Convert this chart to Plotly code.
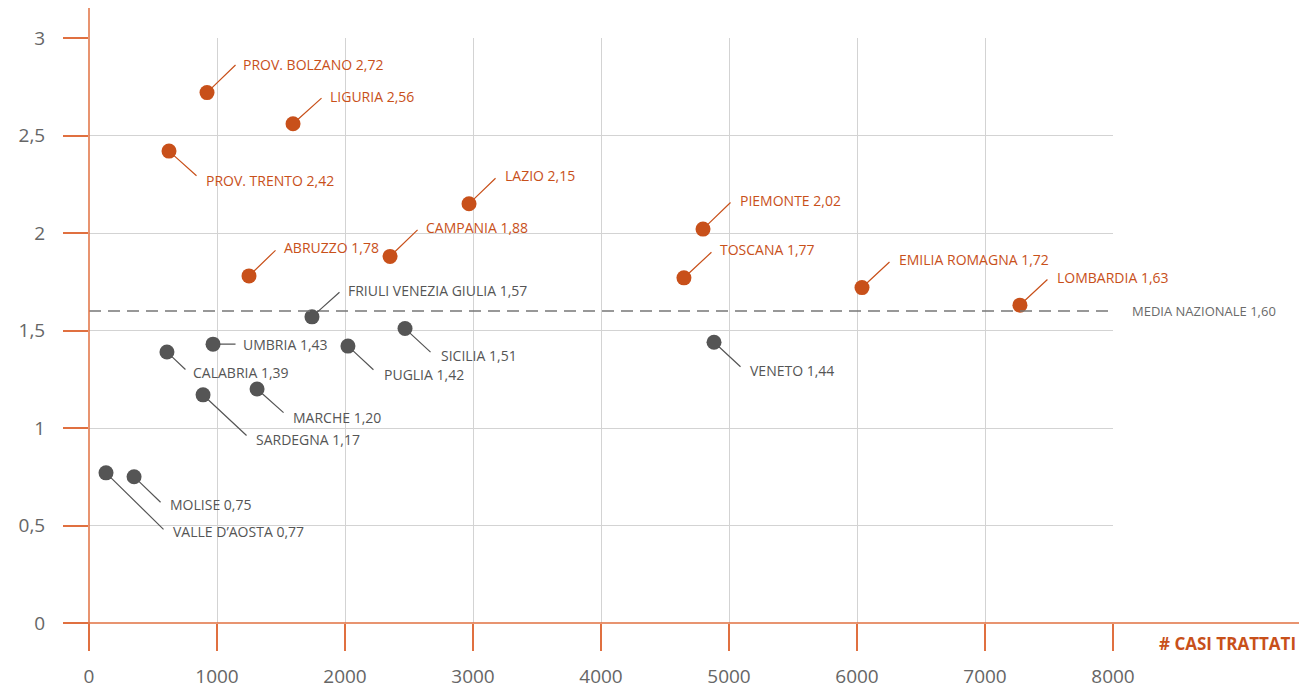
import plotly.graph_objects as go

# ---- data ----
regions = ["PROV. BOLZANO", "LIGURIA", "PROV. TRENTO", "LAZIO", "PIEMONTE", "CAMPANIA",
           "ABRUZZO", "TOSCANA", "EMILIA ROMAGNA", "LOMBARDIA",
           "FRIULI VENEZIA GIULIA", "SICILIA", "VENETO", "UMBRIA", "PUGLIA", "CALABRIA",
           "MARCHE", "SARDEGNA", "VALLE D\u2019AOSTA", "MOLISE"]
casi = [922, 1594, 625, 2969, 4797, 2352, 1250, 4648, 6039, 7273,
        1742, 2469, 4883, 969, 2023, 609, 1313, 891, 133, 352]
indice = [2.72, 2.56, 2.42, 2.15, 2.02, 1.88, 1.78, 1.77, 1.72, 1.63,
          1.57, 1.51, 1.44, 1.43, 1.42, 1.39, 1.20, 1.17, 0.77, 0.75]
media_nazionale = 1.60
x_ticks = [0, 1000, 2000, 3000, 4000, 5000, 6000, 7000, 8000]
y_ticks = [0, 0.5, 1, 1.5, 2, 2.5, 3]
y_tick_labels = ["0", "0,5", "1", "1,5", "2", "2,5", "3"]

# label placement (pixel offsets: leader tail dx, dy, text dx, dy)
label_pos = {
    "PROV. BOLZANO": (30, -29, 34, -28),
    "LIGURIA": (30, -27, 35, -27),
    "PROV. TRENTO": (29, 26, 35, 29),
    "LAZIO": (28, -27, 34, -28),
    "PIEMONTE": (29, -28, 35, -29),
    "CAMPANIA": (29, -28, 34, -29),
    "ABRUZZO": (28, -27, 33, -28),
    "TOSCANA": (29, -27, 34, -28),
    "EMILIA ROMAGNA": (29, -27, 35, -28),
    "LOMBARDIA": (29, -27, 35, -28),
    "FRIULI VENEZIA GIULIA": (29, -26, 34, -26),
    "SICILIA": (27, 25, 34, 27),
    "VENETO": (28, 26, 34, 28),
    "UMBRIA": (24, 0, 28, 0),
    "PUGLIA": (27, 25, 34, 28),
    "CALABRIA": (20, 19, 24, 21),
    "MARCHE": (28, 25, 34, 28),
    "SARDEGNA": (45, 42, 51, 45),
    "VALLE D\u2019AOSTA": (59, 58, 65, 59),
    "MOLISE": (28, 27, 34, 28),
}

ORANGE = "#C8501A"
AXIS_ORANGE = "#E07040"
GRAY = "#555555"
FONT = "Open Sans"


def fmt(v):
    return f"{v:.2f}".replace(".", ",")


colors = [ORANGE if v > media_nazionale else GRAY for v in indice]

fig = go.Figure()
fig.add_trace(go.Scatter(
    x=casi, y=indice, mode="markers",
    marker=dict(size=15, color=colors, line=dict(width=0)),
    cliponaxis=False, hoverinfo="text",
    text=[f"{r} {fmt(v)}" for r, v in zip(regions, indice)],
))

annotations = []
for r, xv, yv, c in zip(regions, casi, indice, colors):
    ldx, ldy, tdx, tdy = label_pos[r]
    # leader line
    annotations.append(dict(
        x=xv, y=yv, xref="x", yref="y", text="", showarrow=True,
        ax=ldx, ay=ldy, arrowhead=0, arrowwidth=1.2, arrowcolor=c, standoff=6,
    ))
    # label text
    annotations.append(dict(
        x=xv, y=yv, xref="x", yref="y",
        text=f"{r} {fmt(yv)}",
        showarrow=False, xanchor="left", yanchor="middle",
        xshift=tdx, yshift=-tdy,
        font=dict(family=FONT, size=14, color=c),
    ))

annotations.append(dict(
    x=1.0166, y=media_nazionale, xref="paper", yref="y",
    text="MEDIA NAZIONALE " + fmt(media_nazionale), showarrow=False,
    xanchor="left", yanchor="middle",
    font=dict(family=FONT, size=13, color="#6a6a6a"),
))
annotations.append(dict(
    x=1.1807, y=0, xref="paper", yref="y",
    text="<b># CASI TRATTATI</b>", showarrow=False, xanchor="right", yanchor="middle",
    yshift=-20,
    font=dict(family=FONT, size=17, color=ORANGE),
))

shapes = [
    # media nazionale dashed line
    dict(type="line", xref="x", yref="y", x0=0, x1=8000, y0=media_nazionale, y1=media_nazionale,
         line=dict(color="#777777", width=1.3, dash="12px,7px")),
    # y axis line (extended)
    dict(type="line", xref="paper", yref="paper", x0=0, x1=0, y0=-0.046, y1=1.06,
         line=dict(color=AXIS_ORANGE, width=1.5)),
    # x axis line (extended)
    dict(type="line", xref="paper", yref="paper", x0=-0.0244, x1=1.1826, y0=0, y1=0,
         line=dict(color=AXIS_ORANGE, width=1.5)),
]

# page body has an 8px default margin: figure is sized/offset to compensate
fig.update_layout(
    width=1299, height=685,
    margin=dict(l=81, r=194, t=30, b=70, autoexpand=False),
    plot_bgcolor="white", paper_bgcolor="white",
    showlegend=False,
    separators=",.",
    annotations=annotations,
    shapes=shapes,
    xaxis=dict(
        range=[0, 8000], tickvals=x_ticks, ticktext=[str(t) for t in x_ticks],
        showgrid=True, gridcolor="#D3D3D3", gridwidth=1, zeroline=False, showline=False,
        ticks="outside", ticklen=27, tickcolor=AXIS_ORANGE, tickwidth=1.5,
        ticklabelstandoff=9, automargin=False,
        tickfont=dict(family=FONT, size=19, color="#666666"),
    ),
    yaxis=dict(
        range=[0, 3], tickvals=y_ticks, ticktext=y_tick_labels,
        showgrid=True, gridcolor="#D3D3D3", gridwidth=1, zeroline=False, showline=False,
        ticks="outside", ticklen=25, tickcolor=AXIS_ORANGE, tickwidth=1.5,
        ticklabelstandoff=14, automargin=False,
        tickfont=dict(family=FONT, size=19, color="#666666"),
    ),
)

fig.write_html("out.html")
